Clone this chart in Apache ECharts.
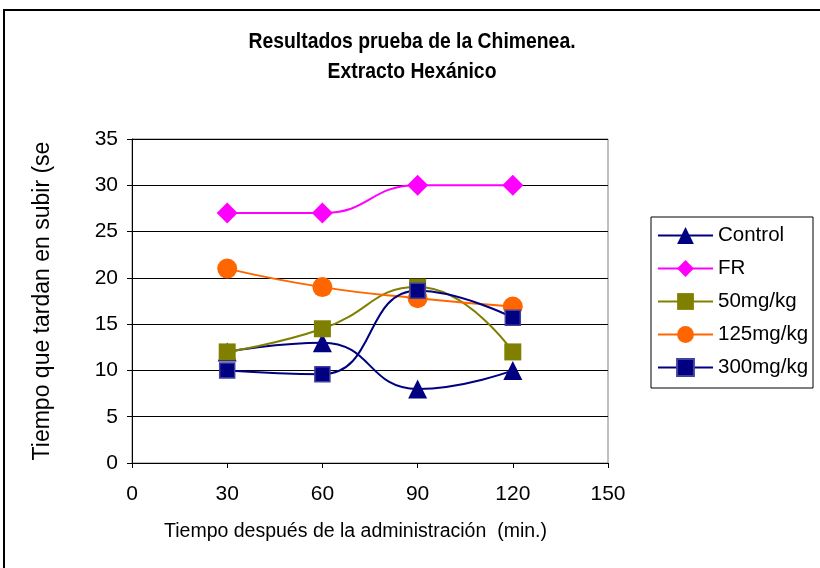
<!DOCTYPE html>
<html>
<head>
<meta charset="utf-8">
<script src="https://cdn.jsdelivr.net/npm/echarts@6/dist/echarts.min.js"></script>
<style>
html,body{margin:0;padding:0;background:#fff;}
#c{width:820px;height:568px;}
</style>
</head>
<body>
<div id="c"></div>
<script>
var xValues = [30, 60, 90, 120];
var control = [12, 13, 8, 10];
var fr = [27, 27, 30, 30];
var mg50 = [12, 14.5, 19, 12];
var mg125 = [21, 19, 17.8, 16.9];
var mg300 = [10, 9.6, 18.6, 15.7];
var titleLines = ['Resultados prueba de la Chimenea.', 'Extracto Hexánico'];
var xName = 'Tiempo después de la administración  (min.)';
var yName = 'Tiempo que tardan en subir (seg.)';

function pairs(vals){ return vals.map(function(v,i){ return [xValues[i], v]; }); }

var font = '"Liberation Sans", Arial, sans-serif';
var chart = echarts.init(document.getElementById('c'), null, {renderer:'canvas'});

function mkSeries(name, data, color, symbol, size, extraItem){
  return {
    name: name, type: 'line', data: pairs(data), smooth: 0.5,
    symbol: symbol, symbolSize: size,
    lineStyle: {color: color, width: 2},
    itemStyle: Object.assign({color: color}, extraItem || {}),
    emphasis: {disabled: true},
    z: 2
  };
}

function titleText(txt, y){
  return {
    type: 'text', x: 412, y: y, scaleX: 0.88, silent: true, z: 5,
    style: {text: txt, x: 0, y: 0, textAlign: 'center', textVerticalAlign: 'middle',
            font: 'bold 22px "Liberation Sans", Arial, sans-serif', fill: '#000'}
  };
}

chart.setOption({
  animation: false,
  backgroundColor: '#fff',
  graphic: [
    {type: 'rect', shape: {x: 4, y: 10, width: 830, height: 580}, style: {fill: null, stroke: '#000', lineWidth: 2}, z: 0, silent: true},
    {type: 'rect', shape: {x: 651, y: 217, width: 162, height: 171}, style: {fill: null, stroke: '#000', lineWidth: 1}, z: 0, silent: true},
    titleText(titleLines[0], 42),
    titleText(titleLines[1], 72)
  ],
  legend: {
    orient: 'vertical', left: 657, top: 225, padding: 0,
    itemWidth: 55, itemHeight: 21, itemGap: 12,
    textStyle: {fontFamily: font, fontSize: 20.5, color: '#000'},
    data: ['Control','FR','50mg/kg','125mg/kg','300mg/kg']
  },
  grid: {left: 132, top: 139, right: 212, bottom: 105, show: true, borderColor: '#808080', borderWidth: 1},
  xAxis: {
    type: 'value', min: 0, max: 150, interval: 30,
    name: xName, nameLocation: 'middle', nameGap: 59,
    nameTextStyle: {fontFamily: font, fontSize: 19.5, color: '#000', padding: [0, 29, 0, 0]},
    axisLine: {show: true, lineStyle: {color: '#000', width: 1}},
    axisTick: {show: true, length: 5, lineStyle: {color: '#000'}},
    axisLabel: {fontFamily: font, fontSize: 21, color: '#000', margin: 21},
    splitLine: {show: false}
  },
  yAxis: {
    type: 'value', min: 0, max: 35, interval: 5,
    name: yName, nameLocation: 'middle', nameGap: 78,
    nameTruncate: {maxWidth: 324, ellipsis: ''},
    nameTextStyle: {fontFamily: font, fontSize: 23, color: '#000'},
    axisLine: {show: true, lineStyle: {color: '#000', width: 1}},
    axisTick: {show: true, length: 5, lineStyle: {color: '#000'}},
    axisLabel: {fontFamily: font, fontSize: 21, color: '#000', margin: 14},
    splitLine: {show: true, lineStyle: {color: '#000', width: 1}}
  },
  series: [
    mkSeries('Control', control, '#000080', 'triangle', 19),
    mkSeries('FR', fr, '#FF00FF', 'diamond', 21),
    mkSeries('50mg/kg', mg50, '#808000', 'rect', 17),
    mkSeries('125mg/kg', mg125, '#FF6600', 'circle', 20),
    mkSeries('300mg/kg', mg300, '#000080', 'rect', 15, {borderColor: '#4040a0', borderWidth: 1.5})
  ]
});
</script>
</body>
</html>
